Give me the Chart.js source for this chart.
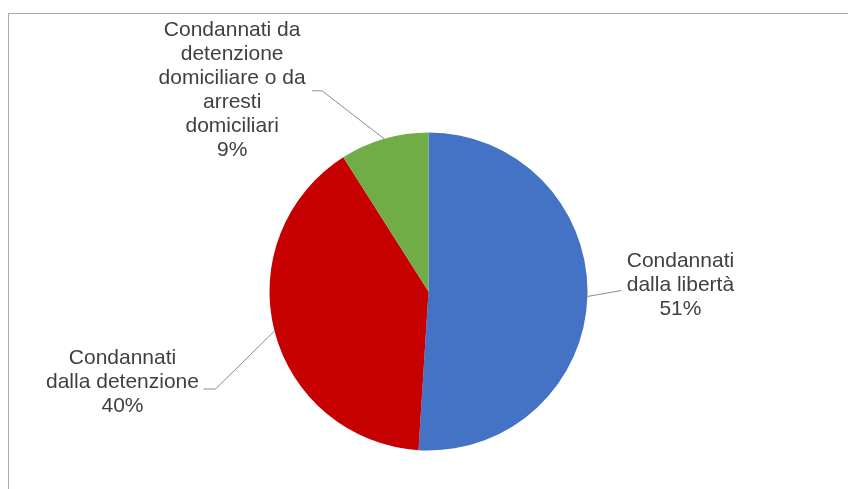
<!DOCTYPE html>
<html>
<head>
<meta charset="utf-8">
<script src="https://cdn.jsdelivr.net/npm/chart.js@4/dist/chart.umd.min.js"></script>
<style>
  html, body { margin: 0; padding: 0; background: #ffffff; }
  #wrap { position: relative; width: 848px; height: 489px; }
  #frame { position: absolute; left: 8px; top: 13px; right: 0; bottom: 0;
           border-top: 1px solid #a9a9a9; border-left: 1px solid #a9a9a9; pointer-events: none; }
  canvas { position: absolute; left: 0; top: 0; }
</style>
</head>
<body>
<div id="wrap">
  <canvas id="c" width="848" height="489"></canvas>
  <div id="frame"></div>
</div>
<script>
// ---- data ----
const categories = [
  "Condannati dalla libertà",
  "Condannati dalla detenzione",
  "Condannati da detenzione domiciliare o da arresti domiciliari"
];
const labelLines = [
  ["Condannati", "dalla libertà"],
  ["Condannati", "dalla detenzione"],
  ["Condannati da", "detenzione", "domiciliare o da", "arresti", "domiciliari"]
];
const values = [51, 40, 9];
const colors = ["#4472C4", "#C60000", "#70AD47"];

// ---- label layout (offsets from slice edge midpoint) ----
const labelLayout = [
  { leader: [[34, -6]], text: [93, -35] },
  { leader: [[-59, 58], [-71, 58]], text: [-152, 27] },
  { leader: [[-62, -48], [-72, -48]], text: [-152, -109] }
];

const labelPlugin = {
  id: 'sliceLabels',
  afterDatasetsDraw(chart) {
    const ctx = chart.ctx;
    const meta = chart.getDatasetMeta(0);
    const total = values.reduce((a, b) => a + b, 0);
    ctx.save();
    meta.data.forEach((arc, i) => {
      const mid = (arc.startAngle + arc.endAngle) / 2;
      const ex = arc.x + Math.cos(mid) * arc.outerRadius;
      const ey = arc.y + Math.sin(mid) * arc.outerRadius;
      const lay = labelLayout[i];
      ctx.strokeStyle = '#8c8c8c';
      ctx.lineWidth = 1;
      ctx.beginPath();
      ctx.moveTo(ex, ey);
      lay.leader.forEach(([dx, dy]) => ctx.lineTo(ex + dx, ey + dy));
      ctx.stroke();
      const lines = labelLines[i].concat([Math.round(values[i] / total * 100) + '%']);
      ctx.fillStyle = '#404040';
      ctx.font = '21px "Liberation Sans", Arial, sans-serif';
      ctx.textAlign = 'center';
      ctx.textBaseline = 'middle';
      const tx = ex + lay.text[0];
      let ty = ey + lay.text[1];
      lines.forEach(line => { ctx.fillText(line, tx, ty); ty += 24; });
    });
    ctx.restore();
  }
};

new Chart(document.getElementById('c'), {
  type: 'pie',
  data: {
    labels: categories,
    datasets: [{
      data: values,
      backgroundColor: colors,
      borderWidth: 0
    }]
  },
  options: {
    responsive: false,
    animation: false,
    devicePixelRatio: 1,
    radius: 159,
    layout: { padding: { left: 120, right: 111, top: 134, bottom: 40 } },
    plugins: { legend: { display: false }, tooltip: { enabled: false } }
  },
  plugins: [labelPlugin]
});
</script>
</body>
</html>
